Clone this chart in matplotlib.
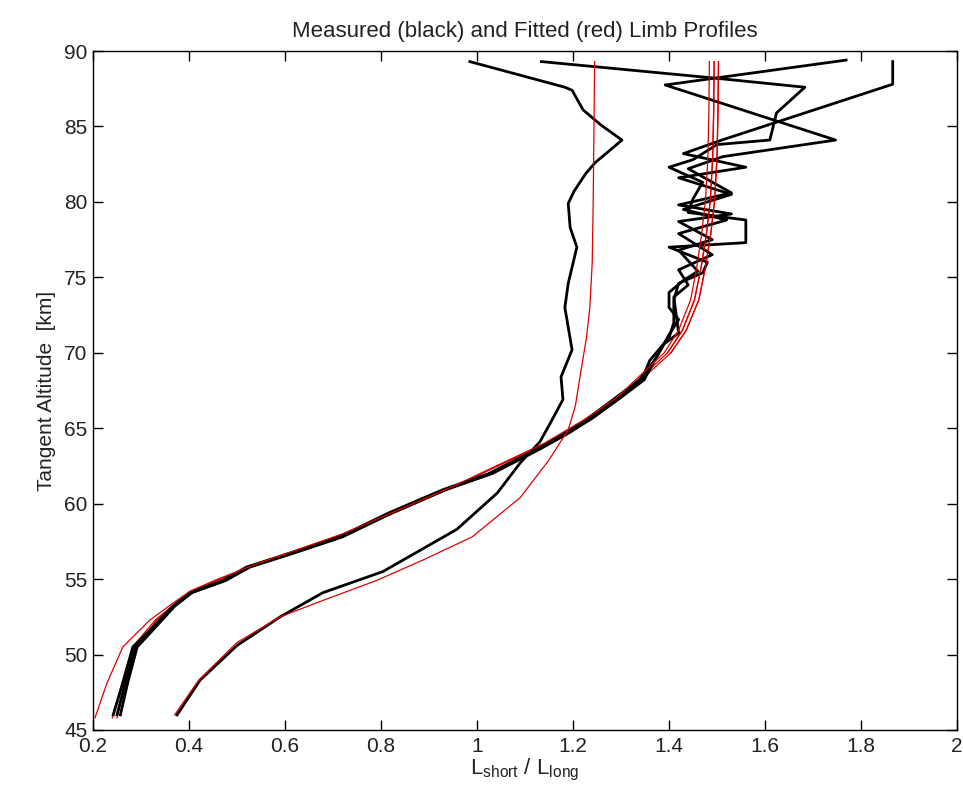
import numpy as np
import matplotlib
matplotlib.use("Agg")
import matplotlib.pyplot as plt

plt.rcParams['font.family'] = ['Liberation Sans', 'DejaVu Sans']
plt.rcParams['mathtext.fontset'] = 'custom'
plt.rcParams['mathtext.rm'] = 'Liberation Sans'

# measured profiles (black): ratio L_short/L_long vs tangent altitude
alt_a = [46.0, 48.1, 50.5, 51.6, 53.2, 54.1, 54.9, 55.8, 56.7, 57.8, 59.4, 60.9, 62.0, 63.6, 64.7, 65.7, 67.0, 68.2,
         69.5, 70.6, 71.3, 72.5, 73.7, 74.5, 75.5, 76.5, 77.9, 78.8, 79.5, 80.5, 81.6, 82.3, 83.2, 84.1, 87.8, 89.3]
ratio_a = [0.242, 0.262, 0.283, 0.318, 0.366, 0.402, 0.470, 0.520, 0.608, 0.713, 0.817, 0.927, 1.025, 1.123, 1.185, 1.233, 1.288, 1.338,
           1.37, 1.39, 1.42, 1.415, 1.41, 1.44, 1.42, 1.49, 1.42, 1.52, 1.43, 1.53, 1.42, 1.56, 1.43, 1.51, 1.866, 1.866]

alt_b = [46.0, 48.1, 50.5, 51.6, 53.2, 54.1, 54.9, 55.8, 56.7, 57.8, 59.4, 60.9, 62.0, 63.6, 64.7, 65.7, 67.0, 68.2,
         69.5, 71.0, 72.0, 73.5, 74.6, 75.3, 76.0, 77.0, 77.3, 78.8, 79.3, 80.2, 81.3, 82.3, 82.8, 83.8, 84.1, 85.9, 87.6, 88.2, 89.3]
ratio_b = [0.250, 0.267, 0.288, 0.321, 0.368, 0.404, 0.473, 0.524, 0.613, 0.717, 0.821, 0.930, 1.029, 1.127, 1.189, 1.238, 1.293, 1.343,
           1.36, 1.40, 1.41, 1.41, 1.42, 1.47, 1.48, 1.40, 1.56, 1.56, 1.44, 1.45, 1.47, 1.40, 1.45, 1.50, 1.61, 1.624, 1.683, 1.497, 1.134]

alt_c = [46.0, 48.1, 50.5, 51.6, 53.2, 54.1, 54.9, 55.8, 56.7, 57.8, 59.4, 60.9, 62.0, 63.6, 64.7, 65.7, 67.0, 68.2,
         69.5, 71.2, 72.2, 73.0, 74.0, 74.8, 75.4, 76.8, 77.5, 78.7, 79.2, 79.8, 80.6, 82.2, 83.0, 84.1, 87.75, 89.4]
ratio_c = [0.257, 0.272, 0.292, 0.324, 0.370, 0.406, 0.476, 0.527, 0.616, 0.720, 0.824, 0.933, 1.032, 1.130, 1.192, 1.242, 1.298, 1.348,
           1.37, 1.40, 1.42, 1.40, 1.40, 1.43, 1.46, 1.42, 1.49, 1.42, 1.53, 1.42, 1.53, 1.44, 1.512, 1.747, 1.392, 1.769]

alt_d = [46.0, 48.3, 50.6, 52.5, 54.1, 55.5, 58.3, 60.7, 62.7, 64.1, 65.3, 66.9, 68.4, 70.2, 73.0, 74.6, 77.0, 78.3,
         79.9, 80.7, 81.9, 82.6, 84.1, 85.1, 86.1, 87.4, 87.6, 89.3]
ratio_d = [0.375, 0.423, 0.500, 0.590, 0.679, 0.804, 0.958, 1.042, 1.090, 1.131, 1.152, 1.179, 1.175, 1.198, 1.183, 1.190, 1.208, 1.194,
           1.190, 1.202, 1.227, 1.246, 1.302, 1.258, 1.221, 1.198, 1.183, 0.985]

# fitted profiles (red)
alt_fit = [45.8, 48.1, 50.5, 52.3, 53.6, 54.2, 55.0, 56.0, 57.0, 58.0, 59.5, 61.0, 62.5, 64.0, 65.5, 67.0, 68.5,
           70.0, 71.5, 73.5, 75.7, 77.9, 80.1, 83.0, 86.0, 89.3]
fit_a = [0.204, 0.229, 0.262, 0.319, 0.375, 0.402, 0.460, 0.540, 0.630, 0.720, 0.830, 0.940, 1.040, 1.140, 1.220, 1.290, 1.340,
         1.390, 1.420, 1.445, 1.458, 1.468, 1.476, 1.481, 1.483, 1.484]
fit_b = [0.240, 0.260, 0.282, 0.330, 0.380, 0.405, 0.463, 0.543, 0.633, 0.723, 0.833, 0.942, 1.042, 1.142, 1.224, 1.295, 1.346,
         1.397, 1.428, 1.453, 1.467, 1.478, 1.486, 1.491, 1.493, 1.494]
fit_c = [0.250, 0.268, 0.290, 0.333, 0.383, 0.408, 0.466, 0.546, 0.636, 0.726, 0.836, 0.944, 1.044, 1.144, 1.228, 1.300, 1.352,
         1.404, 1.436, 1.462, 1.476, 1.487, 1.495, 1.500, 1.502, 1.503]

alt_fit_d = [46.0, 48.3, 50.8, 52.5, 53.6, 54.9, 56.3, 57.8, 60.4, 62.9, 64.9, 66.5, 68.5, 71.0, 73.0, 76.0, 80.0, 83.0, 86.0, 89.3]
fit_d = [0.370, 0.420, 0.500, 0.590, 0.680, 0.790, 0.890, 0.990, 1.090, 1.150, 1.190, 1.205, 1.215, 1.228, 1.235, 1.240, 1.242, 1.243, 1.244, 1.245]

fig = plt.figure(figsize=(9.63, 8.10), dpi=100)
ax = fig.add_axes([0.0966, 0.0988, 0.8972, 0.8382])

for r, a in [(fit_b, alt_fit), (fit_c, alt_fit)]:
    ax.plot(r, a, color='#e00000', lw=0.9)
for r, a in [(ratio_a, alt_a), (ratio_b, alt_b), (ratio_c, alt_c), (ratio_d, alt_d)]:
    ax.plot(r, a, color='black', lw=2.0)
for r, a in [(fit_a, alt_fit), (fit_d, alt_fit_d)]:
    ax.plot(r, a, color='#e00000', lw=0.9)
# upper part of the fits drawn on top of black as in the reference
ax.plot(fit_b[17:], alt_fit[17:], color='#e00000', lw=0.9)
ax.plot(fit_c[17:], alt_fit[17:], color='#e00000', lw=0.9)

ax.set_xlim(0.2, 2)
ax.set_ylim(45, 90)
xt = np.arange(0.2, 2.01, 0.2)
ax.set_xticks(xt)
ax.set_xticklabels(['0.2', '0.4', '0.6', '0.8', '1', '1.2', '1.4', '1.6', '1.8', '2'])
ax.set_yticks(np.arange(45, 91, 5))
ax.tick_params(direction='in', top=True, right=True, length=7, width=1, labelsize=15,
               labelcolor='#222222')
ax.tick_params(axis='x', pad=5)
ax.tick_params(axis='y', pad=4)
for s in ax.spines.values():
    s.set_linewidth(1.0)

ax.set_title('Measured (black) and Fitted (red) Limb Profiles', fontsize=16, pad=10, color='#222222')
ax.set_xlabel(r'L$_{\mathrm{short}}$ / L$_{\mathrm{long}}$', fontsize=16, labelpad=1, color='#222222')
ax.set_ylabel('Tangent Altitude  [km]', fontsize=15, labelpad=6, color='#222222')

fig.savefig('out.png', dpi=100)
